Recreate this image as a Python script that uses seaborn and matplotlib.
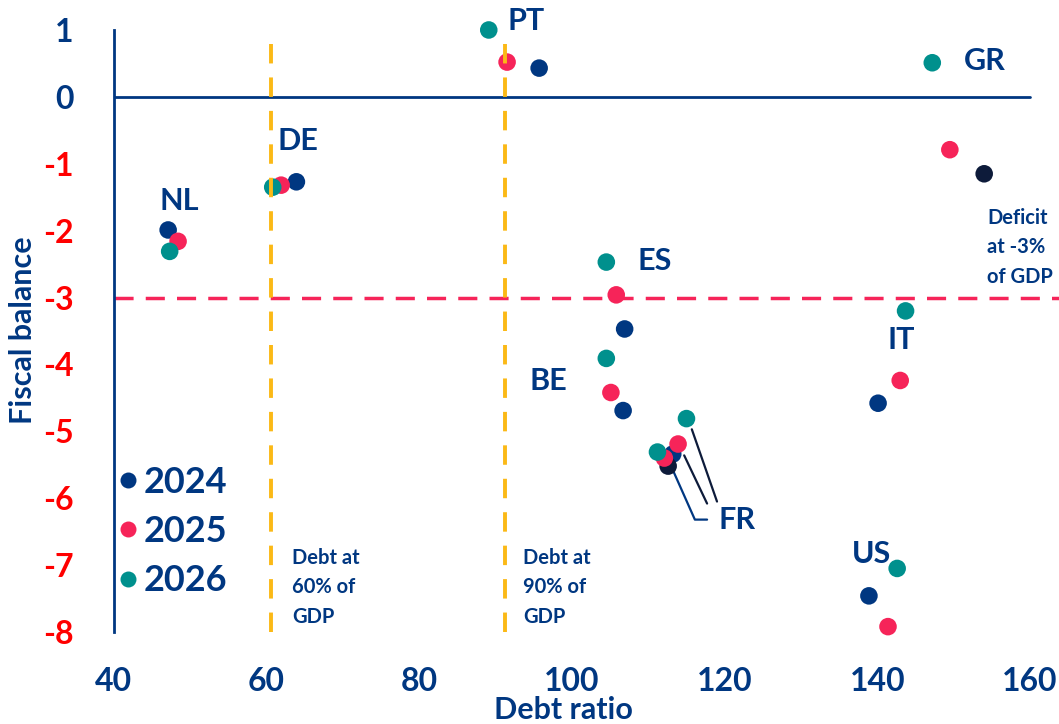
import pandas as pd
import matplotlib
matplotlib.use('Agg')
import matplotlib.pyplot as plt
import seaborn as sns

# Debt ratio (x) and fiscal balance (y) per country and year
countries = ['NL', 'DE', 'PT', 'GR', 'ES', 'BE', 'FR', 'FR_b', 'IT', 'US']
debt_2024 = [47.1, 63.9, 95.7, 154.0, 106.9, 106.7, 113.2, 112.6, 140.1, 138.9]
bal_2024 = [-1.99, -1.27, 0.43, -1.15, -3.47, -4.69, -5.34, -5.52, -4.58, -7.46]
debt_2025 = [48.4, 61.9, 91.5, 149.5, 105.8, 105.1, 113.9, 112.1, 143.0, 141.4]
bal_2025 = [-2.16, -1.32, 0.52, -0.79, -2.96, -4.42, -5.19, -5.40, -4.24, -7.92]
debt_2026 = [47.3, 60.8, 89.1, 147.2, 104.5, 104.5, 115.0, 111.2, 143.7, 142.6]
bal_2026 = [-2.31, -1.35, 1.00, 0.51, -2.47, -3.91, -4.81, -5.31, -3.20, -7.05]
dark_2024 = ['GR', 'FR_b']   # these 2024 dots are drawn in a darker navy

# Country label positions (data coords)
label_names = ['NL', 'DE', 'PT', 'GR', 'ES', 'BE', 'FR', 'IT', 'US']
label_x = [48.5, 64.1, 94.0, 154.1, 110.9, 96.9, 121.6, 143.1, 139.2]
label_y = [-1.56, -0.66, 1.14, 0.54, -2.46, -4.25, -6.33, -3.64, -6.84]

years = ['2024', '2025', '2026']
x_ticks = [40, 60, 80, 100, 120, 140, 160]
y_ticks = [1, 0, -1, -2, -3, -4, -5, -6, -7, -8]

NAVY = '#003781'
DARK = '#0d1b3a'
PINK = '#f62459'
TEAL = '#00908d'
GOLD = '#fbb916'
RED = '#ff0000'

# build long table
rows = []
for yr, dx, by in zip(years, [debt_2024, debt_2025, debt_2026], [bal_2024, bal_2025, bal_2026]):
    for c, d, b in zip(countries, dx, by):
        shade = yr
        if yr == '2024' and c in dark_2024:
            shade = '2024d'
        rows.append({'country': c, 'year': yr, 'shade': shade, 'debt': d, 'balance': b})
df = pd.DataFrame(rows)

sns.set_style('white')
plt.rcParams['font.family'] = ['Lato', 'DejaVu Sans']
plt.rcParams['axes.unicode_minus'] = False

fig = plt.figure(figsize=(10.59, 7.24), dpi=100)
ax = fig.add_axes([0.1076, 0.1271, 0.8924, 0.8315])

palette = {'2024': NAVY, '2024d': DARK, '2025': PINK, '2026': TEAL}
sns.scatterplot(data=df, x='debt', y='balance', hue='shade', palette=palette,
                s=160, linewidth=0, ax=ax, legend=False, zorder=2, clip_on=False)

ax.set_xlim(40, 163.8)
ax.set_ylim(-8, 1)

# reference lines
ax.axhline(0, xmax=(160 - 40) / 123.8, color=NAVY, lw=2, zorder=1)
ax.axhline(-3, color=PINK, lw=2.5, ls=(0, (5.5, 3.5)), zorder=1)
ax.axvline(60.6, color=GOLD, lw=2.8, ls=(0, (5, 3.6)), zorder=3)
ax.axvline(91.2, color=GOLD, lw=2.8, ls=(0, (5, 3.6)), zorder=3)

# spines
for s in ['top', 'right', 'bottom']:
    ax.spines[s].set_visible(False)
ax.spines['left'].set_color(NAVY)
ax.spines['left'].set_linewidth(2)

ax.set_xticks(x_ticks)
ax.set_yticks(y_ticks)
ax.tick_params(axis='x', length=0, pad=25, labelsize=23, labelcolor=NAVY)
ax.tick_params(axis='y', length=0, pad=29, labelsize=23)
for lab in ax.get_xticklabels():
    lab.set_fontweight('bold')
for lab, v in zip(ax.get_yticklabels(), y_ticks):
    lab.set_fontweight('bold')
    lab.set_color(NAVY if v >= 0 else RED)

ax.set_xlabel('Debt ratio', fontsize=22, color=NAVY, fontweight='bold')
ax.set_ylabel('Fiscal balance', fontsize=22, color=NAVY, fontweight='bold')
ax.xaxis.set_label_coords(0.476, -0.107)
ax.yaxis.set_label_coords(-0.081, 0.502)

# country labels
for name, lx, ly in zip(label_names, label_x, label_y):
    ax.text(lx, ly, name, fontsize=22, color=NAVY, fontweight='bold',
            ha='center', va='center')

# FR leader lines
ax.plot([115.7, 119.0], [-4.97, -6.05], color=DARK, lw=1.6, zorder=1)
ax.plot([114.7, 117.7], [-5.36, -6.08], color=DARK, lw=1.6, zorder=1)
ax.plot([113.1, 116.1, 117.7], [-5.55, -6.32, -6.32], color=NAVY, lw=1.6, zorder=1)

# threshold notes
note_kw = dict(fontsize=14.5, color=NAVY, fontweight='bold', ha='left', va='top',
               linespacing=1.6)
ax.text(63.3, -6.74, 'Debt at\n60% of\nGDP', **note_kw)
ax.text(93.6, -6.74, 'Debt at\n90% of\nGDP', **note_kw)
ax.text(154.4, -1.66, 'Deficit\nat -3%\nof GDP', **note_kw)

# legend
handles = [plt.Line2D([], [], marker='o', ls='', ms=11.5, color=c, markeredgewidth=0)
           for c in [NAVY, PINK, TEAL]]
leg = ax.legend(handles, years, loc='upper left', bbox_to_anchor=(0.003, 0.276),
                frameon=False, fontsize=26, handlelength=0.6, handletextpad=0.15,
                labelspacing=0.45, borderaxespad=0, borderpad=0)
for t in leg.get_texts():
    t.set_color(NAVY)
    t.set_fontweight('bold')

fig.savefig('out.png', dpi=100)
